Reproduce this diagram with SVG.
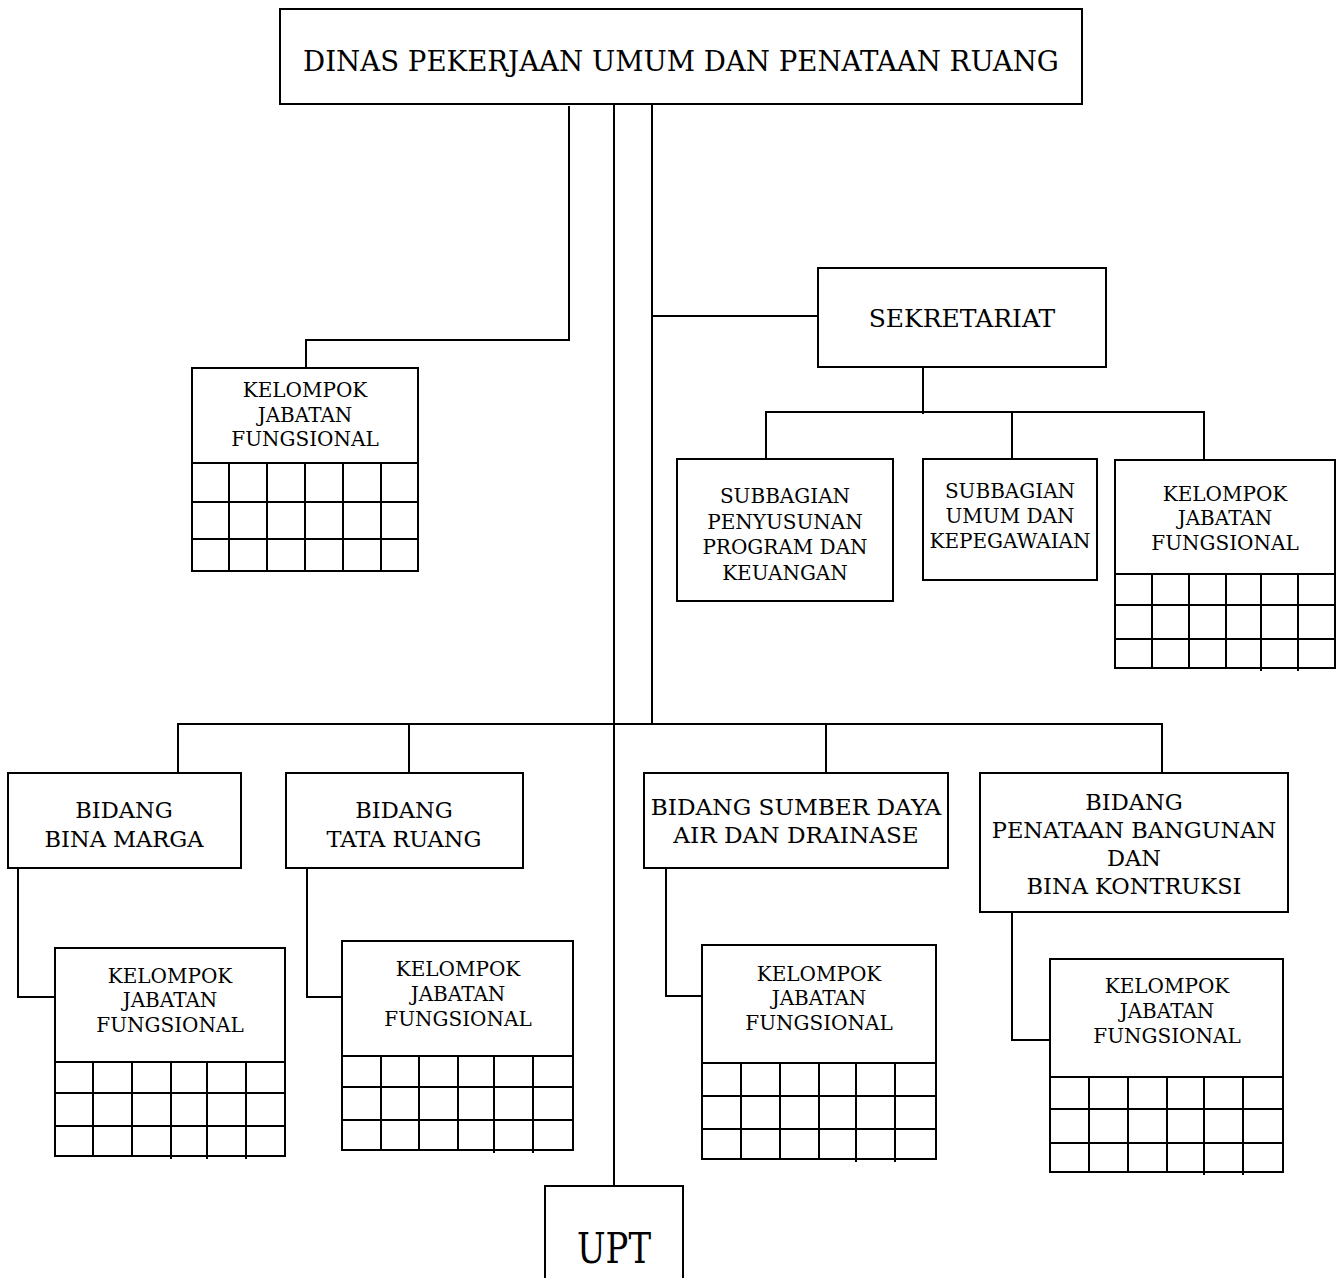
<svg xmlns="http://www.w3.org/2000/svg" width="1344" height="1278" viewBox="0 0 1344 1278">
  <style>
    .box { fill: #fff; stroke: #000; stroke-width: 2; }
    .ln { fill: none; stroke: #000; stroke-width: 2; }
    text { font-family: "DejaVu Serif", "Liberation Serif", serif; fill: #000; text-anchor: middle; }
    .t20 { font-size: 20px; }
    .t22 { font-size: 22.5px; }
    .t23 { font-size: 23.2px; }
  </style>
  <rect width="1344" height="1278" fill="#fff"/>

  <!-- connectors -->
  <g id="connectors" class="ln">
    <path d="M569 106 V340 H306 V368"/>
    <path d="M614 104 V1186"/>
    <path d="M652 104 V724"/>
    <path d="M652 316 H818"/>
    <path d="M923 367 V414"/>
    <path d="M766 459 V412 H1204 V460"/>
    <path d="M1012 412 V459"/>
    <path d="M178 773 V724 H1162 V773"/>
    <path d="M409 724 V773"/>
    <path d="M826 724 V773"/>
    <path d="M18 868 V997 H55"/>
    <path d="M307 868 V997 H342"/>
    <path d="M666 868 V996 H702"/>
    <path d="M1012 912 V1040 H1050"/>
  </g>

  <!-- head office -->
  <g id="dinas">
    <rect class="box" x="280" y="9" width="802" height="95"/>
    <text x="681" y="71" font-size="27.6">DINAS PEKERJAAN UMUM DAN PENATAAN RUANG</text>
  </g>

  <g id="sekretariat">
    <rect class="box" x="818" y="268" width="288" height="99"/>
    <text x="962" y="327" font-size="25">SEKRETARIAT</text>
  </g>

  <g id="subbag-program">
    <rect class="box" x="677" y="459" width="216" height="142"/>
    <text class="t20" x="785" y="503">SUBBAGIAN</text>
    <text class="t20" x="785" y="529">PENYUSUNAN</text>
    <text class="t20" x="785" y="554">PROGRAM DAN</text>
    <text class="t20" x="785" y="580">KEUANGAN</text>
  </g>

  <g id="subbag-umum">
    <rect class="box" x="923" y="459" width="174" height="121"/>
    <text class="t20" x="1010" y="498">SUBBAGIAN</text>
    <text class="t20" x="1010" y="523">UMUM DAN</text>
    <text class="t20" x="1010" y="548">KEPEGAWAIAN</text>
  </g>

  <!-- functional groups: header + 3x6 grid -->
  <g id="kjf-dinas">
    <rect class="box" x="192" y="368" width="226" height="203"/>
    <path class="ln" d="M192 463 H418 M192 502 H418 M192 539 H418 M229 463 V571 M267 463 V571 M305 463 V571 M343 463 V571 M381 463 V571"/>
    <text class="t20" x="305" y="397">KELOMPOK</text>
    <text class="t20" x="305" y="422">JABATAN</text>
    <text class="t20" x="305" y="446">FUNGSIONAL</text>
  </g>

  <g id="kjf-sekretariat">
    <rect class="box" x="1115" y="460" width="220" height="208"/>
    <path class="ln" d="M1115 574 H1335 M1115 605 H1335 M1115 639 H1335 M1152 574 V668 M1189 574 V668 M1226 574 V668 M1261 574 V671 M1298 574 V671"/>
    <text class="t20" x="1225" y="501">KELOMPOK</text>
    <text class="t20" x="1225" y="525">JABATAN</text>
    <text class="t20" x="1225" y="550">FUNGSIONAL</text>
  </g>

  <g id="bidang-bina-marga">
    <rect class="box" x="8" y="773" width="233" height="95"/>
    <text class="t22" x="124" y="818">BIDANG</text>
    <text class="t22" x="124" y="847">BINA MARGA</text>
  </g>

  <g id="kjf-bina-marga">
    <rect class="box" x="55" y="948" width="230" height="208"/>
    <path class="ln" d="M55 1062 H285 M55 1093 H285 M55 1126 H285 M93 1062 V1156 M132 1062 V1156 M171 1062 V1159 M207 1062 V1159 M246 1062 V1159"/>
    <text class="t20" x="170" y="983">KELOMPOK</text>
    <text class="t20" x="170" y="1007">JABATAN</text>
    <text class="t20" x="170" y="1032">FUNGSIONAL</text>
  </g>

  <g id="bidang-tata-ruang">
    <rect class="box" x="286" y="773" width="237" height="95"/>
    <text class="t22" x="404" y="818">BIDANG</text>
    <text class="t22" x="404" y="847">TATA RUANG</text>
  </g>

  <g id="kjf-tata-ruang">
    <rect class="box" x="342" y="941" width="231" height="209"/>
    <path class="ln" d="M342 1056 H573 M342 1087 H573 M342 1120 H573 M381 1056 V1150 M419 1056 V1150 M458 1056 V1150 M494 1056 V1153 M533 1056 V1153"/>
    <text class="t20" x="458" y="976">KELOMPOK</text>
    <text class="t20" x="458" y="1001">JABATAN</text>
    <text class="t20" x="458" y="1026">FUNGSIONAL</text>
  </g>

  <g id="bidang-sda">
    <rect class="box" x="644" y="773" width="304" height="95"/>
    <text class="t23" x="796" y="815">BIDANG SUMBER DAYA</text>
    <text class="t23" x="796" y="843">AIR DAN DRAINASE</text>
  </g>

  <g id="kjf-sda">
    <rect class="box" x="702" y="945" width="234" height="214"/>
    <path class="ln" d="M702 1063 H936 M702 1096 H936 M702 1129 H936 M741 1063 V1159 M780 1063 V1159 M819 1063 V1159 M856 1063 V1162 M895 1063 V1162"/>
    <text class="t20" x="819" y="981">KELOMPOK</text>
    <text class="t20" x="819" y="1005">JABATAN</text>
    <text class="t20" x="819" y="1030">FUNGSIONAL</text>
  </g>

  <g id="bidang-penataan">
    <rect class="box" x="980" y="773" width="308" height="139"/>
    <text class="t22" x="1134" y="810">BIDANG</text>
    <text class="t22" x="1134" y="838">PENATAAN BANGUNAN</text>
    <text class="t22" x="1134" y="866">DAN</text>
    <text class="t22" x="1134" y="894">BINA KONTRUKSI</text>
  </g>

  <g id="kjf-penataan">
    <rect class="box" x="1050" y="959" width="233" height="213"/>
    <path class="ln" d="M1050 1077 H1283 M1050 1109 H1283 M1050 1143 H1283 M1089 1077 V1172 M1128 1077 V1172 M1167 1077 V1172 M1204 1077 V1175 M1243 1077 V1175"/>
    <text class="t20" x="1167" y="993">KELOMPOK</text>
    <text class="t20" x="1167" y="1018">JABATAN</text>
    <text class="t20" x="1167" y="1043">FUNGSIONAL</text>
  </g>

  <g id="upt">
    <path class="ln" d="M545 1290 V1186 H683 V1290"/>
    <text x="614" y="1263" font-size="42" textLength="74" lengthAdjust="spacingAndGlyphs">UPT</text>
  </g>
</svg>
